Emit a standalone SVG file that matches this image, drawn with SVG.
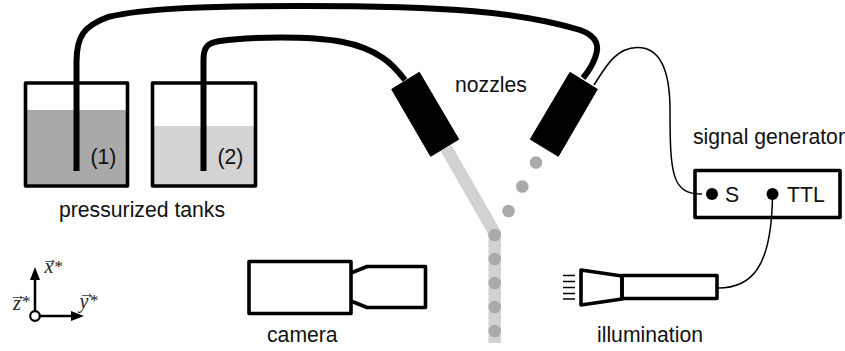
<svg xmlns="http://www.w3.org/2000/svg" width="845" height="351" viewBox="0 0 845 351">
<style>
text{font-family:"Liberation Sans",Arial,sans-serif;font-size:21.200px;fill:#111}
text.math{font-family:"Liberation Serif",serif;font-style:italic;font-size:20px;fill:#222}
text.sup{font-family:"Liberation Serif",serif;font-size:17px;fill:#222}
.box{fill:none;stroke:#000;stroke-width:3.600;stroke-linejoin:round}
.tube{fill:none;stroke:#000;stroke-width:6}
.wire{fill:none;stroke:#000;stroke-width:1.500}
.drop{fill:#aaa}
.thin{stroke:#000;stroke-width:1.400}
.vec{fill:none;stroke:#333;stroke-width:.8}
</style>
<defs><marker id="ah" markerUnits="userSpaceOnUse" markerWidth="14" markerHeight="12" refX="1" refY="5" orient="auto"><path d="M0 0L13 5L0 10Z" fill="#000"/></marker></defs>
<g id="stream">
<path d="M446 148L494.700 233V343" fill="none" stroke="#d2d2d2" stroke-width="12.500"/>
<circle class="drop" cx="536" cy="162.500" r="6.300"/><circle class="drop" cx="522.300" cy="186.500" r="6.300"/><circle class="drop" cx="508.500" cy="211" r="6.300"/>
<circle class="drop" cx="494.700" cy="235" r="6.300"/><circle class="drop" cx="494.700" cy="259" r="6.300"/><circle class="drop" cx="494.700" cy="283" r="6.300"/><circle class="drop" cx="494.700" cy="307" r="6.300"/><circle class="drop" cx="494.700" cy="331" r="6.300"/>
</g>
<g id="tank1"><rect x="25.500" y="110" width="101.500" height="75" fill="#a9a9a9"/><rect class="box" x="25.500" y="83" width="102" height="103"/><text x="90.500" y="164">(1)</text></g>
<g id="tank2"><rect x="152.500" y="126" width="102" height="59" fill="#d3d3d3"/><rect class="box" x="152.500" y="83" width="103" height="103"/><text x="217.500" y="164">(2)</text></g>
<text id="tanks-label" x="59" y="217">pressurized tanks</text>
<g id="connectors">
<path class="tube" d="M76.500 171V62C76.500 36 84 26 108 17C145 8 210 6 300 6C450 6 520 12 580 30C597 36 600 46 595 58C592 66 588 72 583 78"/>
<path class="tube" d="M203.500 171V60C203.500 46 208 43 220 41C240 38 260 37.500 280 37.500C330 37.500 360 42 383 58C392 64 398 71 405 80"/>
<path class="wire" d="M594 85C605 68 615 48 637 47.500C660 47 670 70 670 110C670 175 672 194 702 194"/>
<path class="wire" d="M772.500 194C772 270 750 288 718 288"/>
</g>
<g id="nozzle1"><path d="M419.300 72.300L391.700 89.300L430.700 156.300L458.700 139.300Z" fill="#000" stroke="#000" stroke-linejoin="round"/></g>
<g id="nozzle2"><path d="M570 72.300L597.300 89.300L558.300 156.300L530.300 139.300Z" fill="#000" stroke="#000" stroke-linejoin="round"/></g>
<text id="nozzles-label" x="455" y="92">nozzles</text>
<g id="signal-generator"><rect class="box" x="695" y="170.500" width="145" height="47"/><circle cx="712" cy="194" r="6"/><circle cx="772.500" cy="194" r="6"/><text x="725" y="201.500">S</text><text x="787" y="201.500">TTL</text></g>
<text id="generator-label" x="693" y="144">signal generator</text>
<g id="camera"><rect class="box" x="249" y="261.500" width="102" height="52"/><path class="box" d="M351 273L367 266.500H425.500V307.500H367L351 301"/></g>
<text id="camera-label" x="267" y="342">camera</text>
<g id="illumination"><path class="box" d="M581 270V305L622 299V276Z"/><rect class="box" x="622" y="275.500" width="95" height="23"/>
<path class="thin" d="M563 275.500H575M563 281.500H575M563 287.500H575M563 293.500H575M563 299H575"/></g>
<text id="illumination-label" x="597" y="342">illumination</text>
<g id="axes"><path d="M35 316V279" stroke="#000" stroke-width="2.500" marker-end="url(#ah)"/><path d="M35 316H72" stroke="#000" stroke-width="2.500" marker-end="url(#ah)"/><circle cx="35" cy="316" r="4.800" fill="#fff" stroke="#000" stroke-width="2.200"/>
<text class="math" x="44.500" y="273">x</text><text class="sup" x="54.500" y="272">*</text><path class="vec" d="M45 261.500H54M52 260L54.500 261.500L52 263"/>
<text class="math" x="79.500" y="308">y</text><text class="sup" x="90" y="306">*</text><path class="vec" d="M82 295.500H91M89 294L91.500 295.500L89 297"/>
<text class="math" x="13" y="310">z</text><text class="sup" x="22" y="307">*</text><path class="vec" d="M13 297.500H22M20 296L22.500 297.500L20 299"/></g>
</svg>
